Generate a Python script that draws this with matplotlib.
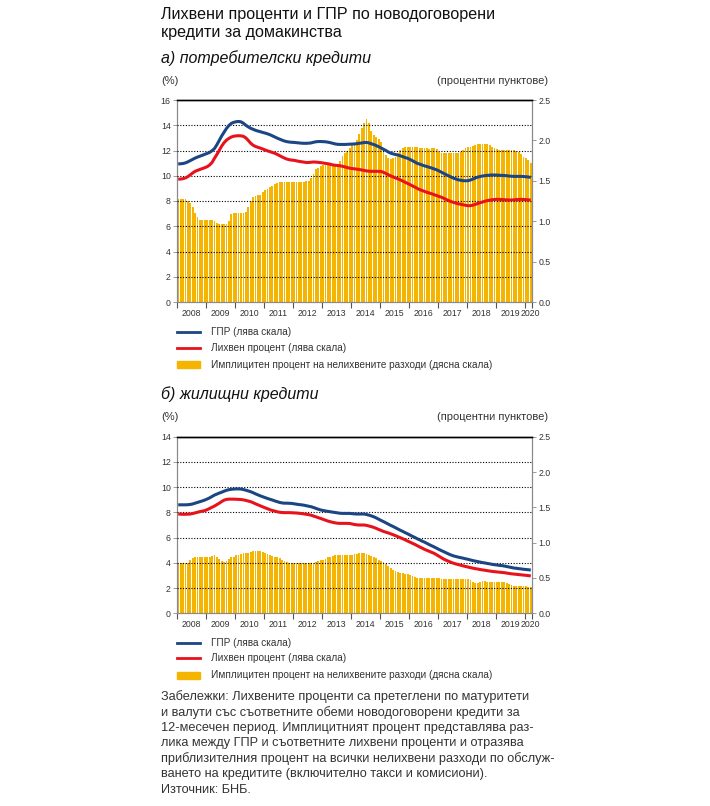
import matplotlib
matplotlib.use("Agg")
import matplotlib.pyplot as plt
import numpy as np
from matplotlib.lines import Line2D
from matplotlib.patches import Rectangle

plt.rcParams['font.family'] = ['Liberation Sans', 'DejaVu Sans']

# ---------------- DATA (monthly, Jan 2008 - Mar 2020) ----------------
years = ['2008', '2009', '2010', '2011', '2012', '2013', '2014', '2015',
         '2016', '2017', '2018', '2019', '2020']

# а) потребителски кредити
cons_apr = [10.93, 10.95, 10.97, 11.02, 11.10, 11.20, 11.30, 11.40, 11.48, 11.55, 11.62, 11.70,
            11.77, 11.85, 11.98, 12.15, 12.45, 12.80, 13.15, 13.45, 13.75, 13.98, 14.15, 14.23,
            14.28, 14.30, 14.27, 14.16, 14.00, 13.87, 13.76, 13.68, 13.60, 13.54, 13.49, 13.43,
            13.38, 13.32, 13.25, 13.16, 13.07, 12.98, 12.90, 12.82, 12.75, 12.70, 12.67, 12.65,
            12.64, 12.62, 12.60, 12.58, 12.57, 12.57, 12.58, 12.60, 12.65, 12.69, 12.71, 12.71,
            12.70, 12.69, 12.66, 12.62, 12.57, 12.52, 12.49, 12.48, 12.48, 12.48, 12.49, 12.50,
            12.51, 12.52, 12.54, 12.57, 12.60, 12.63, 12.64, 12.60, 12.53, 12.47, 12.39, 12.30,
            12.20, 12.10, 12.00, 11.88, 11.79, 11.73, 11.68, 11.64, 11.58, 11.51, 11.44, 11.38,
            11.29, 11.19, 11.08, 10.98, 10.92, 10.85, 10.78, 10.73, 10.67, 10.61, 10.54, 10.47,
            10.38, 10.28, 10.18, 10.08, 9.99, 9.90, 9.81, 9.74, 9.68, 9.64, 9.61, 9.60,
            9.61, 9.66, 9.74, 9.82, 9.89, 9.94, 9.98, 10.01, 10.03, 10.05, 10.06, 10.06,
            10.05, 10.04, 10.03, 10.02, 10.00, 9.98, 9.96, 9.95, 9.95, 9.95, 9.95, 9.94,
            9.92, 9.90, 9.87]
cons_rate = [9.72, 9.74, 9.77, 9.83, 9.93, 10.08, 10.22, 10.35, 10.43, 10.50, 10.57, 10.64,
             10.72, 10.85, 11.05, 11.38, 11.68, 12.02, 12.35, 12.62, 12.82, 12.96, 13.07, 13.13,
             13.16, 13.17, 13.16, 13.12, 13.00, 12.80, 12.58, 12.42, 12.32, 12.25, 12.19, 12.12,
             12.04, 11.97, 11.91, 11.84, 11.78, 11.69, 11.59, 11.49, 11.40, 11.32, 11.27, 11.24,
             11.22, 11.18, 11.14, 11.11, 11.08, 11.05, 11.05, 11.07, 11.09, 11.08, 11.06, 11.04,
             11.01, 10.98, 10.95, 10.91, 10.86, 10.83, 10.81, 10.79, 10.75, 10.70, 10.65, 10.60,
             10.57, 10.55, 10.52, 10.49, 10.46, 10.42, 10.38, 10.36, 10.35, 10.35, 10.35, 10.35,
             10.34, 10.27, 10.18, 10.08, 9.99, 9.91, 9.83, 9.75, 9.67, 9.58, 9.48, 9.39,
             9.30, 9.20, 9.10, 9.00, 8.90, 8.83, 8.76, 8.69, 8.63, 8.57, 8.50, 8.43,
             8.36, 8.30, 8.21, 8.12, 8.03, 7.95, 7.89, 7.83, 7.78, 7.74, 7.70, 7.66,
             7.63, 7.63, 7.67, 7.73, 7.80, 7.86, 7.92, 7.98, 8.03, 8.07, 8.10, 8.12,
             8.13, 8.13, 8.12, 8.10, 8.09, 8.08, 8.08, 8.09, 8.11, 8.12, 8.13, 8.12,
             8.11, 8.09, 8.08]
cons_fee = [1.28, 1.28, 1.28, 1.28, 1.25, 1.22, 1.17, 1.10, 1.05, 1.02, 1.02, 1.02,
            1.02, 1.02, 1.02, 1.00, 0.98, 0.96, 0.96, 0.96, 0.96, 1.00, 1.09, 1.10,
            1.10, 1.10, 1.10, 1.10, 1.12, 1.17, 1.25, 1.30, 1.31, 1.32, 1.33, 1.36,
            1.38, 1.40, 1.42, 1.44, 1.46, 1.47, 1.48, 1.48, 1.48, 1.48, 1.48, 1.48,
            1.48, 1.48, 1.48, 1.48, 1.48, 1.50, 1.50, 1.53, 1.59, 1.64, 1.66, 1.68,
            1.70, 1.70, 1.70, 1.70, 1.70, 1.70, 1.70, 1.75, 1.81, 1.84, 1.87, 1.90,
            1.94, 1.97, 2.01, 2.08, 2.15, 2.21, 2.27, 2.21, 2.12, 2.07, 2.04, 2.02,
            1.98, 1.90, 1.82, 1.78, 1.77, 1.78, 1.80, 1.85, 1.88, 1.91, 1.92, 1.92,
            1.92, 1.92, 1.92, 1.92, 1.90, 1.91, 1.91, 1.90, 1.89, 1.90, 1.90, 1.89,
            1.86, 1.85, 1.85, 1.84, 1.84, 1.85, 1.85, 1.84, 1.85, 1.86, 1.88, 1.90,
            1.92, 1.92, 1.93, 1.94, 1.95, 1.96, 1.96, 1.95, 1.95, 1.94, 1.92, 1.90,
            1.89, 1.88, 1.88, 1.88, 1.88, 1.88, 1.88, 1.88, 1.87, 1.86, 1.83, 1.80,
            1.78, 1.76, 1.72]

# б) жилищни кредити
mort_apr = [8.60, 8.60, 8.60, 8.60, 8.61, 8.63, 8.67, 8.73, 8.79, 8.85, 8.91, 8.98,
            9.06, 9.15, 9.26, 9.37, 9.45, 9.53, 9.60, 9.68, 9.75, 9.80, 9.83, 9.85,
            9.86, 9.86, 9.85, 9.81, 9.76, 9.70, 9.64, 9.56, 9.47, 9.39, 9.31, 9.24,
            9.17, 9.10, 9.04, 8.98, 8.91, 8.85, 8.79, 8.75, 8.73, 8.73, 8.72, 8.71,
            8.68, 8.65, 8.62, 8.60, 8.57, 8.53, 8.49, 8.45, 8.39, 8.32, 8.25, 8.19,
            8.15, 8.11, 8.08, 8.05, 8.02, 7.99, 7.96, 7.93, 7.92, 7.92, 7.92, 7.92,
            7.90, 7.88, 7.87, 7.87, 7.87, 7.87, 7.83, 7.78, 7.72, 7.65, 7.56, 7.46,
            7.36, 7.27, 7.17, 7.07, 6.97, 6.88, 6.78, 6.68, 6.58, 6.49, 6.39, 6.30,
            6.20, 6.10, 6.01, 5.91, 5.82, 5.72, 5.64, 5.54, 5.44, 5.35, 5.26, 5.16,
            5.06, 4.97, 4.88, 4.79, 4.70, 4.62, 4.55, 4.50, 4.45, 4.41, 4.37, 4.32,
            4.28, 4.23, 4.18, 4.14, 4.10, 4.06, 4.02, 3.99, 3.95, 3.92, 3.88, 3.85,
            3.83, 3.80, 3.78, 3.75, 3.71, 3.67, 3.63, 3.59, 3.57, 3.54, 3.52, 3.49,
            3.47, 3.45, 3.43]
mort_rate = [7.87, 7.86, 7.85, 7.85, 7.86, 7.87, 7.91, 7.96, 8.01, 8.06, 8.10, 8.14,
             8.22, 8.31, 8.41, 8.50, 8.61, 8.73, 8.86, 8.97, 9.03, 9.05, 9.05, 9.05,
             9.04, 9.03, 9.02, 8.99, 8.95, 8.90, 8.85, 8.77, 8.68, 8.60, 8.52, 8.44,
             8.36, 8.29, 8.21, 8.15, 8.10, 8.05, 8.01, 7.99, 7.98, 7.98, 7.98, 7.97,
             7.96, 7.95, 7.93, 7.91, 7.88, 7.85, 7.82, 7.78, 7.71, 7.65, 7.58, 7.52,
             7.45, 7.38, 7.31, 7.26, 7.21, 7.17, 7.14, 7.13, 7.13, 7.13, 7.13, 7.12,
             7.08, 7.04, 7.01, 7.00, 7.00, 7.00, 6.97, 6.92, 6.87, 6.81, 6.73, 6.65,
             6.57, 6.49, 6.43, 6.37, 6.30, 6.23, 6.15, 6.07, 5.99, 5.91, 5.82, 5.73,
             5.64, 5.55, 5.46, 5.36, 5.26, 5.17, 5.07, 4.99, 4.91, 4.83, 4.75, 4.64,
             4.52, 4.40, 4.29, 4.20, 4.12, 4.04, 3.97, 3.91, 3.86, 3.81, 3.76, 3.71,
             3.67, 3.62, 3.58, 3.54, 3.51, 3.47, 3.44, 3.41, 3.38, 3.35, 3.32, 3.30,
             3.28, 3.26, 3.24, 3.22, 3.19, 3.16, 3.13, 3.11, 3.09, 3.07, 3.05, 3.03,
             3.01, 2.99, 2.96]
mort_fee = [0.71, 0.71, 0.71, 0.71, 0.71, 0.75, 0.78, 0.79, 0.79, 0.79, 0.79, 0.79,
            0.79, 0.80, 0.81, 0.82, 0.79, 0.77, 0.74, 0.73, 0.74, 0.77, 0.79, 0.80,
            0.82, 0.83, 0.84, 0.85, 0.85, 0.86, 0.87, 0.875, 0.88, 0.88, 0.88, 0.87,
            0.86, 0.84, 0.83, 0.81, 0.80, 0.79, 0.78, 0.76, 0.74, 0.73, 0.71, 0.71,
            0.71, 0.71, 0.71, 0.71, 0.71, 0.71, 0.71, 0.71, 0.71, 0.73, 0.74, 0.75,
            0.76, 0.77, 0.79, 0.80, 0.81, 0.82, 0.82, 0.82, 0.82, 0.82, 0.82, 0.82,
            0.83, 0.84, 0.84, 0.85, 0.85, 0.85, 0.84, 0.83, 0.81, 0.80, 0.78, 0.76,
            0.74, 0.72, 0.70, 0.67, 0.64, 0.62, 0.60, 0.59, 0.575, 0.57, 0.56, 0.55,
            0.54, 0.53, 0.51, 0.505, 0.505, 0.505, 0.505, 0.505, 0.505, 0.505, 0.505, 0.505,
            0.505, 0.49, 0.49, 0.49, 0.49, 0.49, 0.49, 0.49, 0.49, 0.49, 0.49, 0.49,
            0.48, 0.47, 0.45, 0.43, 0.43, 0.44, 0.46, 0.455, 0.445, 0.445, 0.445, 0.445,
            0.445, 0.445, 0.445, 0.445, 0.43, 0.41, 0.40, 0.38, 0.38, 0.38, 0.38, 0.38,
            0.38, 0.375, 0.37]

# ---------------- STYLE ----------------
W, H = 710, 806
BAR = '#F5B400'
BLUE = '#1B4683'
RED = '#E8121C'
GREY = '#8a8a8a'
TXT = '#333333'

fig = plt.figure(figsize=(W / 100, H / 100), dpi=100)
fig.patch.set_facecolor('white')


def fx(x):
    return x / W


def fy(y):
    return 1 - y / H


def panel(top_px, bot_px, apr, rate, fee, lmax, lstep, rmax):
    n = len(apr)
    x = np.arange(n)
    left, right = 177, 532
    ax = fig.add_axes([fx(left), fy(bot_px), (right - left) / W, (bot_px - top_px) / H])
    ax2 = ax.twinx()
    ax2.bar(x, fee, width=0.75, color=BAR, linewidth=0, zorder=1)
    ax2.set_ylim(0, rmax)
    ax2.set_yticks(np.arange(0, rmax + 0.01, 0.5))
    ax2.set_yticklabels([f'{v:.1f}' for v in np.arange(0, rmax + 0.01, 0.5)])
    ax.set_zorder(ax2.get_zorder() + 1)
    ax.patch.set_visible(False)
    ax.plot(x, apr, color=BLUE, lw=2.2, zorder=5, solid_capstyle='butt')
    ax.plot(x, rate, color=RED, lw=2.2, zorder=5, solid_capstyle='butt')
    ax.set_ylim(0, lmax)
    ax.set_xlim(-0.5, n - 0.5)
    yt = np.arange(0, lmax + 0.1, lstep)
    ax.set_yticks(yt)
    for v in yt[1:-1]:
        ax.axhline(v, color='black', lw=0.8, ls=(0, (1, 1.5)), zorder=4)
    # year ticks at boundaries, labels at centres
    bounds = [-0.5 + 12 * k for k in range(13)] + [n - 0.5]
    ax.set_xticks(bounds)
    ax.set_xticklabels([])
    centres = [-0.5 + 12 * k + 6 for k in range(12)] + [(bounds[12] + n - 0.5) / 2 + 0.8]
    for c, lab in zip(centres, years):
        ax.text(c, -0.055 * lmax * (202 / (bot_px - top_px)), lab, ha='center', va='center',
                fontsize=6.3, color=TXT, transform=ax.transData)
    for a in (ax, ax2):
        for s in ('left', 'right', 'bottom'):
            a.spines[s].set_color(GREY)
            a.spines[s].set_linewidth(0.8)
        a.spines['top'].set_color('black')
        a.spines['top'].set_linewidth(1.0)
    ax.tick_params(axis='y', length=3, width=0.6, color=GREY, labelsize=6.3, labelcolor=TXT, pad=1.5)
    ax2.tick_params(axis='y', length=3, width=0.6, color=GREY, labelsize=6.3, labelcolor=TXT, pad=1.5)
    ax.tick_params(axis='x', length=4, width=0.8, color='#555555', direction='out')
    return ax


panel(100, 302, cons_apr, cons_rate, cons_fee, 16, 2, 2.5)
panel(436.7, 613.3, mort_apr, mort_rate, mort_fee, 14, 2, 2.5)

# ---------------- TEXTS ----------------
fig.text(fx(161), fy(15), 'Лихвени проценти и ГПР по новодоговорени', fontsize=11.6,
         color='#111111', ha='left', va='center')
fig.text(fx(161), fy(32), 'кредити за домакинства', fontsize=11.6,
         color='#111111', ha='left', va='center')

for ytitle, label, yunit in [(58, 'а) потребителски кредити', 81), (394, 'б) жилищни кредити', 417)]:
    fig.text(fx(161), fy(ytitle), label, fontsize=11.5, style='italic', color='#111111',
             ha='left', va='center')
    fig.text(fx(161), fy(yunit), '(%)', fontsize=8, color=TXT, ha='left', va='center')
    fig.text(fx(548), fy(yunit), '(процентни пунктове)', fontsize=8, color=TXT,
             ha='right', va='center')

legend_labels = ['ГПР (лява скала)', 'Лихвен процент (лява скала)',
                 'Имплицитен процент на нелихвените разходи (дясна скала)']
for y0 in (332.5, 643):
    ys = [y0, y0 + 15, y0 + 32]
    fig.add_artist(Line2D([fx(177), fx(200)], [fy(ys[0])] * 2, color=BLUE, lw=2,
                          transform=fig.transFigure))
    fig.add_artist(Line2D([fx(177), fx(200)], [fy(ys[1])] * 2, color=RED, lw=2,
                          transform=fig.transFigure))
    fig.add_artist(Rectangle((fx(177), fy(ys[2] + 3.5)), fx(23), 7 / H, color=BAR,
                             transform=fig.transFigure))
    for yy, lab in zip(ys, legend_labels):
        fig.text(fx(211), fy(yy), lab, fontsize=7.2, color=TXT, ha='left', va='center')

notes = ['Забележки: Лихвените проценти са претеглени по матуритети',
         'и валути със съответните обеми новодоговорени кредити за',
         '12-месечен период. Имплицитният процент представлява раз-',
         'лика между ГПР и съответните лихвени проценти и отразява',
         'приблизителния процент на всички нелихвени разходи по обслуж-',
         'ването на кредитите (включително такси и комисиони).']
for i, line in enumerate(notes):
    fig.text(fx(161), fy(697 + 15.4 * i), line, fontsize=9.2, color=TXT, ha='left', va='center')
fig.text(fx(161), fy(790), 'Източник: БНБ.', fontsize=9.2, color=TXT, ha='left', va='center')

fig.savefig('out.png', dpi=100, facecolor='white')
